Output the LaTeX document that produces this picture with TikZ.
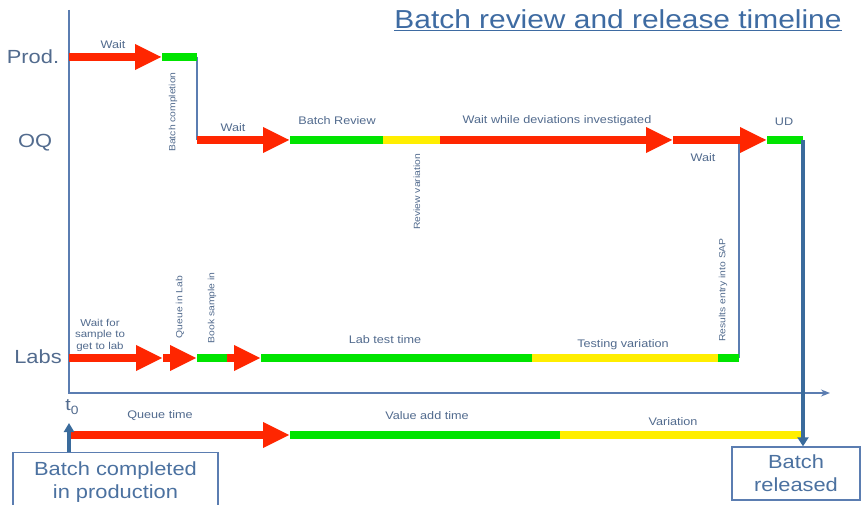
\documentclass[tikz,border=0pt]{standalone}
\usepackage{fontspec}
\setmainfont{Liberation Sans}[FakeStretch=1.15]
\usetikzlibrary{arrows.meta}
\definecolor{bred}{HTML}{FF2600}
\definecolor{bgreen}{HTML}{00E400}
\definecolor{byellow}{HTML}{FFEE00}
\definecolor{thinblue}{HTML}{5B7DB1}
\definecolor{thickblue}{HTML}{3A6B9C}
\definecolor{labelc}{HTML}{526B8E}
\definecolor{titlec}{HTML}{3E6BA2}
\definecolor{boxc}{HTML}{4B71A0}
\begin{document}
\begin{tikzpicture}[x=1pt,y=-1pt,
  bar/.style={line width=7.5pt},
  redarr/.style={bar,draw=bred,-{Triangle[length=27pt,width=24pt]}},
  greenbar/.style={bar,draw=bgreen},
  yellowbar/.style={bar,draw=byellow},
  thinline/.style={draw=thinblue,line width=1.3pt},
  lbl/.style={text=labelc,font=\fontsize{11}{13}\selectfont,inner sep=0pt},
  rlbl/.style={text=labelc,font=\fontsize{9}{11}\selectfont,inner sep=0pt,rotate=90},
  rowlbl/.style={text=labelc,font=\fontsize{19}{22}\selectfont,inner sep=0pt},
  boxnode/.style={draw=thinblue,line width=1.4pt,text=boxc,align=center,
     font=\fontsize{19}{23}\selectfont,inner sep=0pt}
]
\useasboundingbox (0,0) rectangle (863,505);
\clip (0,0) rectangle (863,505);
\fill[white] (0,0) rectangle (863,505);

% coordinates
\coordinate (P0) at (69,57);
\coordinate (P1) at (162,57);
\coordinate (P2) at (197,57);
\coordinate (O0) at (197,140);
\coordinate (O1) at (290,140);
\coordinate (O2) at (383,140);
\coordinate (O3) at (440,140);
\coordinate (O4) at (673,140);
\coordinate (O45) at (739,140);
\coordinate (O5) at (767,140);
\coordinate (O6) at (803,140);
\coordinate (L0) at (69,358);
\coordinate (L1) at (163,358);
\coordinate (L2) at (197,358);
\coordinate (L3) at (227,358);
\coordinate (L4) at (261,358);
\coordinate (L5) at (532,358);
\coordinate (L6) at (718,358);
\coordinate (L7) at (739,358);
\coordinate (B0) at (69,435);
\coordinate (B1) at (290,435);
\coordinate (B2) at (560,435);
\coordinate (B3) at (803,435);
\coordinate (axtop) at (69,10);
\coordinate (axorig) at (69,393);
\coordinate (axend) at (830,393);
\coordinate (uptip) at (69,423);

% title
\node[text=titlec,font=\fontsize{26}{30}\selectfont,inner sep=0pt] (title) at (618,20) {\underline{Batch review and release timeline}};

% axes
\draw[thinline,-{Stealth[length=9pt,width=7pt]}] (axtop) -- (axorig) -- (axend);

% row labels
\node[rowlbl] (prod) at (33,57) {Prod.};
\node[rowlbl] (oq) at (35,143) {OQ};
\node[rowlbl] (labs) at (38,357) {Labs};
\node[text=labelc,font=\fontsize{17}{20}\selectfont,inner sep=0pt] (t0) at (72,407) {t\raisebox{-0.35ex}{\fontsize{12}{12}\selectfont 0}};

% thin connectors
\draw[thinline] (P2) -- (O0);
\draw[thinline] (L7) -- (O45);

% Prod row
\draw[redarr] (P0) -- (P1);
\draw[greenbar] (P1) -- (P2);

% OQ row
\draw[redarr] (O0) -- (O1);
\draw[greenbar] (O1) -- (O2);
\draw[yellowbar] (O2) -- (O3);
\draw[redarr] (O3) -- (O4);
\draw[redarr] (O4) -- (O5);
\draw[greenbar] (O5) -- (O6);

% Labs row
\draw[redarr] (L0) -- (L1);
\draw[redarr] (L1) -- (L2);
\draw[greenbar] (L2) -- (L3);
\draw[redarr] (L3) -- (L4);
\draw[greenbar] (L4) -- (L5);
\draw[yellowbar] (L5) -- (L6);
\draw[greenbar] (L6) -- (L7);

% bottom timeline
\draw[redarr] (B0) -- (B1);
\draw[greenbar] (B1) -- (B2);
\draw[yellowbar] (B2) -- (B3);

% labels
\node[lbl] (w1) at (113,45) {Wait};
\node[rlbl] (bc) at (173,112) {Batch completion};
\node[lbl] (w2) at (233,128) {Wait};
\node[lbl] (br) at (337,121) {Batch Review};
\node[rlbl] (rv) at (417,192) {Review variation};
\node[lbl] (wd) at (557,121) {Wait while deviations investigated};
\node[lbl] (w3) at (703,158) {Wait};
\node[lbl] (ud) at (784,122) {UD};
\node[rlbl] (res) at (723,290) {Results entry into SAP};
\node[lbl,align=center,font=\fontsize{10}{11.5}\selectfont] (wf) at (100,335) {Wait for\\sample to\\get to lab};
\node[rlbl] (qil) at (180,307) {Queue in Lab};
\node[rlbl] (bsi) at (212,308) {Book sample in};
\node[lbl] (ltt) at (385,340) {Lab test time};
\node[lbl] (tv) at (623,345) {Testing variation};
\node[lbl] (qt) at (160,416) {Queue time};
\node[lbl] (vat) at (427,416) {Value add time};
\node[lbl] (var) at (673,422) {Variation};

% boxes
\node[boxnode,minimum width=205pt,minimum height=58pt,anchor=north] (comp) at (115.5,452) {Batch completed\\in production};
\node[boxnode,minimum width=128pt,minimum height=53pt] (rel) at (796,473.5) {Batch\\released};

% blue arrows
\draw[draw=thickblue,line width=3.5pt,-{Triangle[length=9pt,width=10pt]}] (comp.north -| uptip) -- (uptip);
\draw[draw=thickblue,line width=4pt,-{Triangle[length=9pt,width=11pt]}] (O6) -- (O6 |- rel.north);
\end{tikzpicture}
\end{document}
